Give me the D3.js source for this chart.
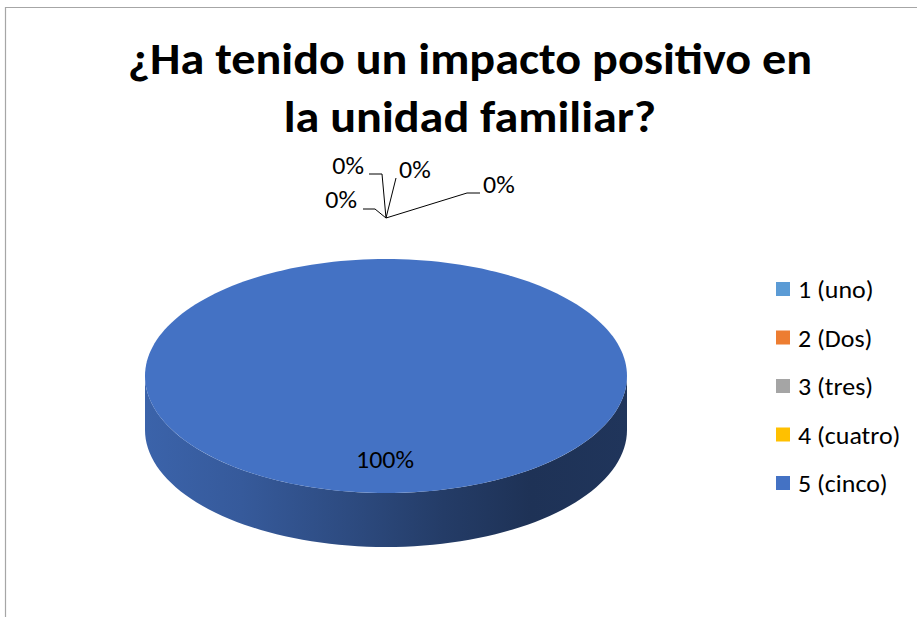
<!DOCTYPE html>
<html>
<head>
<meta charset="utf-8">
<script src="https://cdn.jsdelivr.net/npm/d3@7"></script>
<style>
  html, body { margin: 0; padding: 0; background: #fff; }
  svg { display: block; }
  text { font-family: Carlito, Calibri, Lato, "Open Sans", sans-serif; }
</style>
</head>
<body>
<svg id="chart" width="917" height="617"></svg>
<script>
// Survey answers and their share of responses
const categories = ["1 (uno)", "2 (Dos)", "3 (tres)", "4 (cuatro)", "5 (cinco)"];
const values = [0, 0, 0, 0, 100];
const colors = ["#5B9BD5", "#ED7D31", "#A5A5A5", "#FFC000", "#4472C4"];
const titleLines = ["¿Ha tenido un impacto positivo en", "la unidad familiar?"];

const svg = d3.select("#chart");
const W = 917, H = 617;
const textStretch = 1.08; // slightly widened lettering

// Widen a text element horizontally by a factor while keeping its anchor
function widen(sel, factor) {
  sel.each(function () {
    const w = this.getComputedTextLength();
    d3.select(this).attr("textLength", w * factor).attr("lengthAdjust", "spacingAndGlyphs");
  });
}

// Chart frame (top and left edge)
svg.append("path")
  .attr("d", `M5.5,${H} V7.5 H${W}`)
  .attr("fill", "none")
  .attr("stroke", "#a6a6a6")
  .attr("stroke-width", 1.2);

// Title
const title = svg.append("text")
  .attr("text-anchor", "middle")
  .attr("font-weight", "bold")
  .attr("font-size", 45)
  .attr("fill", "#000");
title.selectAll("tspan").data(titleLines).join("tspan")
  .attr("x", 470)
  .attr("y", (d, i) => 74 + i * 58)
  .text(d => d);
widen(title.selectAll("tspan"), 1.07);

// Pie geometry: tilted disc drawn as an ellipse with a visible front rim
const cx = 386, cy = 376, rx = 241, ry = 117, depth = 54;
const pt = (a, dy = 0) => [cx + rx * Math.sin(a), cy - ry * Math.cos(a) + dy];

const total = d3.sum(values);
const pieData = d3.pie().sort(null).value(d => d)(values)
  .map((d, i) => ({ ...d, i, pct: d.value / total }));

const defs = svg.append("defs");
function sideGradient(id, base) {
  const g = defs.append("linearGradient").attr("id", id)
    .attr("gradientUnits", "userSpaceOnUse")
    .attr("x1", cx - rx).attr("x2", cx + rx).attr("y1", 0).attr("y2", 0);
  const shade = [[0, 0.4], [0.2, 0.66], [0.45, 1.25], [0.62, 1.8], [0.8, 2.3], [1, 2.15]];
  shade.forEach(([o, k]) => g.append("stop").attr("offset", o)
    .attr("stop-color", d3.color(base).darker(k)));
  return `url(#${id})`;
}

// Front rim for each slice (only the part facing the viewer: angles PI/2..3PI/2)
const sides = svg.append("g");
pieData.forEach(d => {
  const a0 = Math.max(d.startAngle, Math.PI / 2);
  const a1 = Math.min(d.endAngle, 3 * Math.PI / 2);
  if (a1 <= a0) return;
  const n = 80;
  const top = d3.range(n + 1).map(k => pt(a0 + (a1 - a0) * k / n));
  const bottom = d3.range(n + 1).map(k => pt(a1 - (a1 - a0) * k / n, depth));
  sides.append("path")
    .attr("d", d3.line()(top.concat(bottom)) + "Z")
    .attr("fill", sideGradient("side" + d.i, colors[d.i]));
});

// Top face of each slice
const faces = svg.append("g");
pieData.forEach(d => {
  if (d.endAngle - d.startAngle <= 0) return;
  const n = 200;
  const arcPts = d3.range(n + 1).map(k => pt(d.startAngle + (d.endAngle - d.startAngle) * k / n));
  const full = d.endAngle - d.startAngle >= 2 * Math.PI - 1e-9;
  const pts = full ? arcPts : [[cx, cy]].concat(arcPts);
  faces.append("path")
    .attr("d", d3.line()(pts) + "Z")
    .attr("fill", colors[d.i]);
});

// Data labels
const fmt = d3.format(".0%");
const labels = svg.append("g").attr("font-size", 24).attr("fill", "#000");

// Slices with a share: label inside the top face, toward the front
pieData.filter(d => d.value > 0).forEach(d => {
  const full = d.endAngle - d.startAngle >= 2 * Math.PI - 1e-9;
  const a = full ? Math.PI : (d.startAngle + d.endAngle) / 2;
  const x = cx + rx * 0.6 * Math.sin(a), y = cy - ry * 0.79 * Math.cos(a);
  labels.append("text")
    .attr("class", "lbl")
    .attr("x", x - 1).attr("y", y)
    .attr("text-anchor", "middle")
    .text(fmt(d.pct));
});

// Empty slices: labels pulled out above the disc with leader lines
const anchor = [cx, cy - ry - 41];
const callouts = [
  { path: [[-4, -44], [-17, -44]], tx: -22, ty: -44, anchorText: "end" },
  { path: [[10, -40]], tx: 13, ty: -40, anchorText: "start" },
  { path: [[-11, -9], [-23, -9]], tx: -29, ty: -10, anchorText: "end" },
  { path: [[81, -25], [94, -25]], tx: 97, ty: -25, anchorText: "start" }
];
const empty = pieData.filter(d => d.value === 0);
const order = [2, 0, 1, 3];
empty.forEach((d, k) => {
  const c = callouts[order[k]];
  const pts = [anchor].concat(c.path.map(([dx, dy]) => [anchor[0] + dx, anchor[1] + dy]));
  labels.append("path")
    .attr("d", d3.line()(pts))
    .attr("fill", "none")
    .attr("stroke", "#000")
    .attr("stroke-width", 1);
  labels.append("text")
    .attr("class", "lbl")
    .attr("x", anchor[0] + c.tx)
    .attr("y", anchor[1] + c.ty)
    .attr("text-anchor", c.anchorText)
    .text(fmt(d.pct));
});
widen(labels.selectAll("text.lbl"), textStretch);

// Legend
const legend = svg.append("g").attr("transform", "translate(776,282)");
const rowH = 48.5;
const rows = legend.selectAll("g").data(categories).join("g")
  .attr("transform", (d, i) => `translate(0,${i * rowH})`);
rows.append("rect")
  .attr("width", 14).attr("height", 14)
  .attr("fill", (d, i) => colors[i]);
rows.append("text")
  .attr("x", 22).attr("y", 16)
  .attr("font-size", 24)
  .attr("fill", "#000")
  .text(d => d);
widen(rows.selectAll("text"), textStretch);
</script>
</body>
</html>
